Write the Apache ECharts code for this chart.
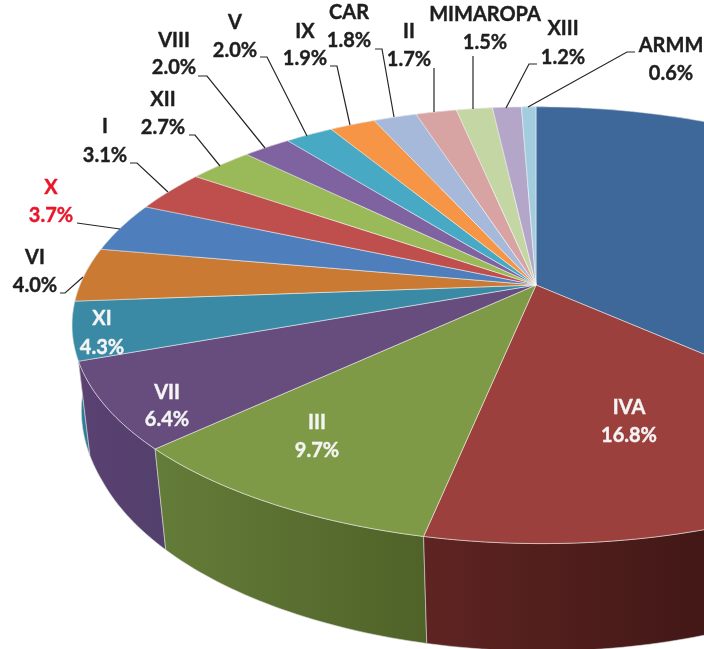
<!DOCTYPE html>
<html><head><meta charset="utf-8">
<style>html,body{margin:0;padding:0;background:#fff}#c{width:704px;height:649px}</style>
<script src="https://cdn.jsdelivr.net/npm/echarts@6/dist/echarts.min.js"></script>
</head><body><div id="c"></div>
<script>
const categories = ['NCR','IVA','III','VII','XI','VI','X','I','XII','VIII','V','IX','CAR','II','MIMAROPA','XIII','ARMM'];
const values = [36.6,16.8,9.7,6.4,4.3,4.0,3.7,3.1,2.7,2.0,2.0,1.9,1.8,1.7,1.5,1.2,0.6];
const colors = ['#3E6899','#9B403D','#7E9A47','#674D7E','#3A8AA5','#CA7A33','#4E7FBC','#BE4F4C','#9ABA59','#7F63A1','#47A9C3','#F59545','#A6B9DA','#D8A4A3','#C3D6A3','#B3A6C9','#A3CDDE'];
const wallLeft = ['#2A4668','#5E2422','#647C39','#5A4172','#2F7D96','#8A5322','#355680','#823634','#69803C','#56436E','#307485','#A7652F','#71809A','#94706F','#85926F','#7A7189','#6F8C97'];
const wallRight = ['#1F344E','#2C0E0D','#4F6228','#53406B','#2F7D96','#8A5322','#355680','#823634','#69803C','#56436E','#307485','#A7652F','#71809A','#94706F','#85926F','#7A7189','#6F8C97'];
const redLabels = ['X'];
const insideLabels = ['IVA','III','VII','XI'];
// label layout: category -> [centre x, name y, value y]
const labelPos = {IVA:[629,408,436],III:[317,423,451],VII:[167,393,420],XI:[102,319,348],VI:[35,258,286],X:[51,188,216],I:[105,127,156],XII:[163,100,128],VIII:[174,41,68],V:[235,23,51],IX:[305,32,59],CAR:[349,13,41],II:[409,32,60],MIMAROPA:[485,15,43],XIII:[563,29,58],ARMM:[671,46,74]};
const leaders = {VI:[[60,293],[65,293],[83,277]],X:[[77,223],[120,229]],I:[[130,163],[137,163],[168,192]],XII:[[189,135],[195,135],[220,166]],VIII:[[198,76],[207,76],[265,148]],V:[[260,57],[267,57],[307,136]],IX:[[330,66],[337,66],[350,125]],CAR:[[375,49],[382,49],[394,117]],II:[[434,68],[434,112]],MIMAROPA:[[473,56],[473,109]],XIII:[[537,64],[529,64],[506,108]],ARMM:[[635,52],[627,52],[528,107]]};

// projection of the pie disc (perspective)
const P = {x0:536, y0:285, A:456, B:211, k:0.184, skew:6, sy:1.07, depth:89.4};
const total = values.reduce((a,b)=>a+b,0);
const cum = []; values.reduce((a,v,i)=>{cum[i]=a; return a+v;},0);
function topPt(deg){
  const t = deg*Math.PI/180, u = Math.sin(t), v = -Math.cos(t), d = 1-P.k*v;
  return [P.x0+P.A*u/d+P.skew*Math.pow(Math.max(v,0),4), P.y0+P.B*v/d];
}
function bottomPt(deg){
  const p = topPt(deg), v = -Math.cos(deg*Math.PI/180);
  const sx = Math.max(0.972, 0.985-0.03*v);
  return [P.x0+(p[0]-P.x0)*sx, P.y0+(p[1]-P.y0)*P.sy+P.depth];
}
function arc(i, fn){
  const a0 = cum[i]/total*360, a1 = (cum[i]+values[i])/total*360, n = Math.max(2,Math.ceil(a1-a0)), pts=[];
  for(let j=0;j<=n;j++) pts.push(fn(a0+(a1-a0)*j/n));
  return pts;
}
const rows = values.map((v,i)=>[i,v]);
const chart = echarts.init(document.getElementById('c'),null,{renderer:'canvas'});
chart.setOption({
  animation:false, backgroundColor:'#fff',
  series:[
    {type:'custom',name:'walls',coordinateSystem:'none',silent:true,z:1,data:rows,
     renderItem(p){
       const i=values.length-1-p.dataIndex, t=arc(i,topPt), b=arc(i,bottomPt).reverse();
       return {type:'polygon',shape:{points:t.concat(b)},
          style:{fill:new echarts.graphic.LinearGradient(0,0,1,0,[{offset:0,color:wallLeft[i]},{offset:1,color:wallRight[i]}]),stroke:'rgba(215,215,215,0.75)',lineWidth:0.8}};
     }},
    {type:'custom',name:'tops',coordinateSystem:'none',silent:true,z:2,data:rows,
     renderItem(p){
       const i=p.dataIndex, pts=arc(i,topPt);
       pts.push([P.x0,P.y0]);
       return {type:'polygon',shape:{points:pts},style:{fill:colors[i],stroke:'rgba(255,255,255,0.6)',lineWidth:0.8}};
     }},
    {type:'custom',name:'labels',coordinateSystem:'none',silent:true,z:3,data:rows,
     renderItem(p){
       const i=p.dataIndex, c=categories[i], lp=labelPos[c], kids=[];
       if(!lp) return {type:'group',children:[]};
       const fill = redLabels.includes(c)?'#E8152B':insideLabels.includes(c)?'#F4F4F4':'#1E1E1E';
       const font='bold 20px Lato, "Open Sans", sans-serif';
       const ts={align:'center',verticalAlign:'middle',font,fill,stroke:fill,lineWidth:0.4};
       kids.push({type:'text',style:Object.assign({text:c,x:lp[0],y:lp[1]},ts)});
       kids.push({type:'text',style:Object.assign({text:values[i].toFixed(1)+'%',x:lp[0],y:lp[2]},ts)});
       if(leaders[c]) kids.push({type:'polyline',shape:{points:leaders[c]},style:{fill:'none',stroke:'#262626',lineWidth:1.2}});
       return {type:'group',children:kids};
     }}
  ]
});
</script></body></html>
